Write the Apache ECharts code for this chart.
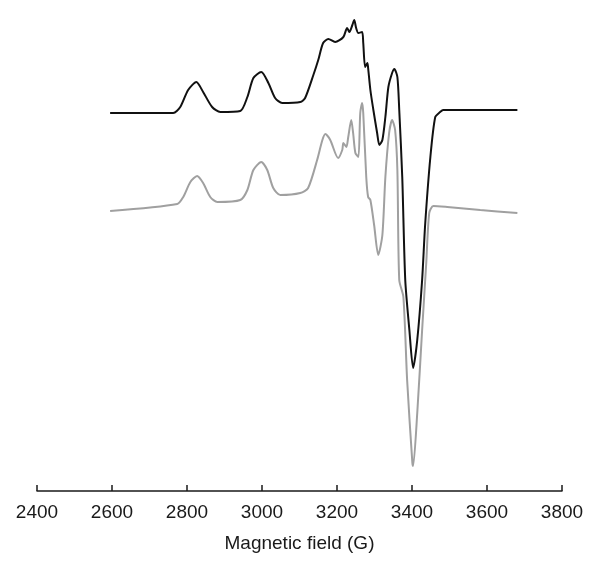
<!DOCTYPE html>
<html>
<head>
<meta charset="utf-8">
<title>EPR spectrum</title>
<script src="https://cdn.jsdelivr.net/npm/echarts@6/dist/echarts.min.js"></script>
<style>
  html, body { margin: 0; padding: 0; background: #fff; }
  #chart { width: 600px; height: 569px; }
</style>
</head>
<body>
<div id="chart"></div>
<script>
// field axis ticks (G)
var fieldTicks = [2400, 2600, 2800, 3000, 3200, 3400, 3600, 3800];

// upper (black) spectrum: field in G, intensity in arbitrary units
var blackField = [2595, 2763, 2782, 2803, 2825, 2843, 2867, 2889, 2942, 2961, 2977, 2998, 3017, 3035, 3054, 3102, 3115, 3137, 3150, 3163, 3177, 3195, 3217, 3227, 3233, 3241, 3246, 3251, 3257, 3267, 3270, 3275, 3281, 3283, 3289, 3297, 3307, 3313, 3321, 3329, 3337, 3347, 3353, 3361, 3366, 3374, 3382, 3393, 3403, 3414, 3427, 3435, 3449, 3462, 3475, 3483, 3582, 3681];
var blackSignal = [378, 378, 384, 401, 409, 399, 384, 379, 380, 394, 413, 419, 408, 393, 388, 389, 393, 416, 431, 448, 452, 449, 454, 463, 459, 466, 471, 463, 458, 459, 448, 424, 428, 423, 401, 381, 358, 346, 351, 374, 404, 418, 422, 414, 381, 314, 211, 161, 123, 151, 211, 266, 334, 374, 379, 381, 381, 381];

// lower (gray) spectrum
var grayField = [2595, 2774, 2790, 2809, 2827, 2843, 2862, 2881, 2942, 2961, 2977, 2998, 3014, 3030, 3049, 3102, 3123, 3147, 3161, 3169, 3182, 3203, 3214, 3217, 3225, 3230, 3238, 3243, 3249, 3257, 3262, 3267, 3270, 3278, 3283, 3289, 3299, 3310, 3321, 3329, 3339, 3347, 3355, 3361, 3366, 3377, 3387, 3401, 3403, 3414, 3427, 3438, 3446, 3457, 3494, 3582, 3681];
var graySignal = [280, 287, 294, 309, 315, 308, 294, 289, 291, 301, 321, 329, 321, 303, 296, 298, 303, 331, 351, 357, 351, 333, 341, 348, 344, 354, 371, 358, 338, 334, 378, 388, 378, 314, 294, 291, 266, 236, 256, 314, 358, 371, 361, 321, 211, 194, 111, 28, 25, 78, 161, 228, 278, 285, 284, 281, 278];

function pairs(xs, ys) {
  return xs.map(function (x, i) { return [x, ys[i]]; });
}

var chart = echarts.init(document.getElementById("chart"));

var option = {
  animation: false,
  backgroundColor: "#fff",
  grid: {
    left: 37,
    right: 38,
    top: 10,
    bottom: 74
  },
  xAxis: {
    type: "value",
    min: fieldTicks[0],
    max: fieldTicks[fieldTicks.length - 1],
    interval: 200,
    name: "Magnetic field (G)",
    nameLocation: "middle",
    nameGap: 39,
    nameTextStyle: {
      color: "#1a1a1a",
      fontSize: 19,
      fontFamily: "Liberation Sans, Arial, sans-serif"
    },
    axisLine: {
      lineStyle: { color: "#1a1a1a", width: 1.5 }
    },
    axisTick: {
      inside: true,
      length: 6,
      lineStyle: { color: "#1a1a1a", width: 1.5 }
    },
    axisLabel: {
      color: "#1a1a1a",
      fontSize: 19,
      margin: 8,
      fontFamily: "Liberation Sans, Arial, sans-serif",
      formatter: function (v) { return String(v); }
    },
    splitLine: { show: false }
  },
  // intensity axis is not drawn in the figure
  yAxis: {
    type: "value",
    min: -4,
    max: 481,
    show: false
  },
  series: [
    {
      name: "gray",
      type: "line",
      data: pairs(grayField, graySignal),
      showSymbol: false,
      symbol: "none",
      smooth: 0.25,
      lineStyle: { color: "#a0a0a0", width: 2 },
      z: 2
    },
    {
      name: "black",
      type: "line",
      data: pairs(blackField, blackSignal),
      showSymbol: false,
      symbol: "none",
      smooth: 0.25,
      lineStyle: { color: "#111", width: 2 },
      z: 3
    }
  ]
};

chart.setOption(option);
</script>
</body>
</html>
